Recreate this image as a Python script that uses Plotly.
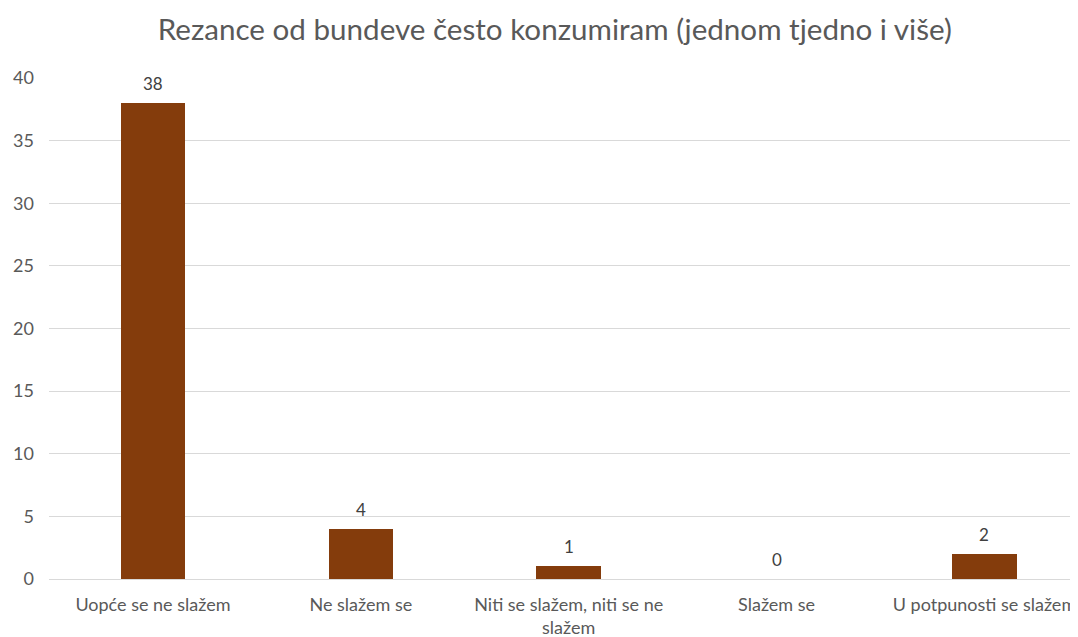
import plotly.graph_objects as go

categories = ["Uopće se ne slažem", "Ne slažem se", "Niti se slažem, niti se ne<br>slažem", "Slažem se", "U potpunosti se slažem"]
values = [38, 4, 1, 0, 2]
y_ticks = [0, 5, 10, 15, 20, 25, 30, 35, 40]
title_text = "Rezance od bundeve često konzumiram (jednom tjedno i više)"

FONT = "Lato"
GRAY = "#595959"

xs = list(range(len(categories)))
fig = go.Figure(go.Bar(
    x=xs,
    y=values,
    marker=dict(color="#843C0C", line=dict(width=0)),
    width=0.31,
    cliponaxis=False,
))

for x, v in zip(xs, values):
    fig.add_annotation(x=x, y=v, text=str(v), showarrow=False, yanchor="bottom",
                       yshift=7, font=dict(family=FONT, size=17, color="#404040"))

fig.update_layout(
    width=1070, height=629,
    margin=dict(l=41, r=0, t=70, b=58, autoexpand=False),
    paper_bgcolor="white", plot_bgcolor="white",
    title=dict(text=title_text, x=0.511, xanchor="center", y=0.966, yanchor="middle",
               font=dict(family=FONT, size=29.6, color=GRAY)),
    showlegend=False,
    bargap=0,
)
fig.update_xaxes(
    tickmode="array", tickvals=xs, ticktext=categories,
    range=[-0.5, 4.45], showgrid=False, zeroline=False, showline=False,
    tickfont=dict(family=FONT, size=18, color=GRAY), ticks="", ticklabelstandoff=13,
    automargin=False,
)
fig.update_yaxes(
    range=[0, 40], tickvals=y_ticks, showgrid=True, gridcolor="#D9D9D9", gridwidth=1,
    zeroline=True, zerolinecolor="#D9D9D9", zerolinewidth=1, showline=False,
    tickfont=dict(family=FONT, size=18, color=GRAY), ticks="", ticklabelstandoff=14,
    automargin=False,
)
fig.write_html("out.html")
